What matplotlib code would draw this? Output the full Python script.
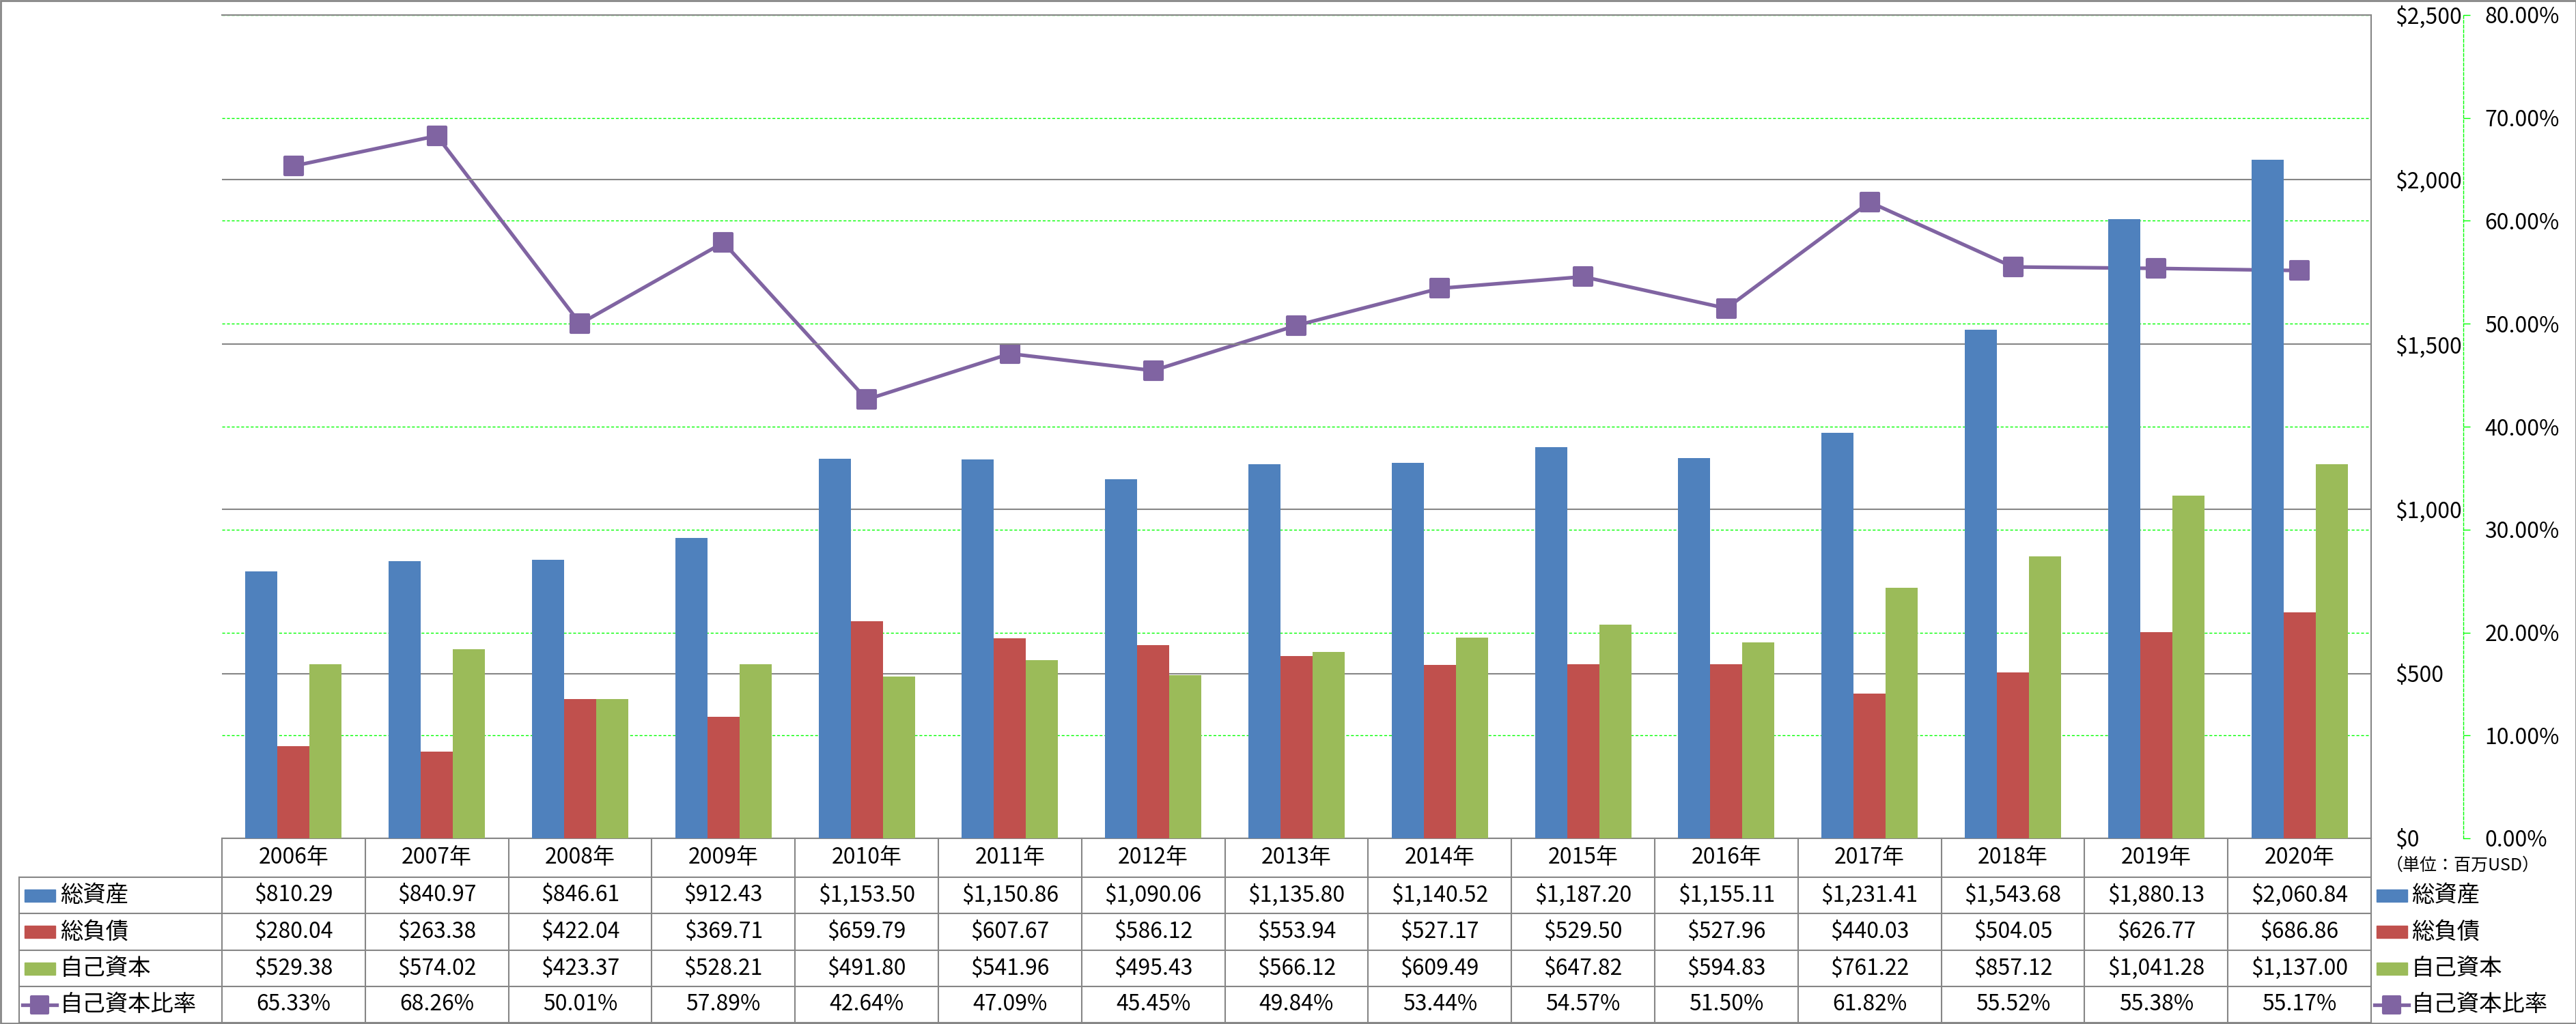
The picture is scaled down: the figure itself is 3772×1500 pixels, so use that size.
import numpy as np
import matplotlib
matplotlib.use("Agg")
import matplotlib.pyplot as plt
from matplotlib.lines import Line2D
from matplotlib.patches import Rectangle
from matplotlib.markers import MarkerStyle
from matplotlib.transforms import blended_transform_factory
from matplotlib.ticker import FuncFormatter

plt.rcParams['font.family'] = ['Noto Sans CJK JP', 'DejaVu Sans']

years = ["2006年", "2007年", "2008年", "2009年", "2010年", "2011年", "2012年", "2013年",
         "2014年", "2015年", "2016年", "2017年", "2018年", "2019年", "2020年"]
total_assets = [810.29, 840.97, 846.61, 912.43, 1153.50, 1150.86, 1090.06, 1135.80,
                1140.52, 1187.20, 1155.11, 1231.41, 1543.68, 1880.13, 2060.84]
total_liab = [280.04, 263.38, 422.04, 369.71, 659.79, 607.67, 586.12, 553.94,
              527.17, 529.50, 527.96, 440.03, 504.05, 626.77, 686.86]
equity = [529.38, 574.02, 423.37, 528.21, 491.80, 541.96, 495.43, 566.12,
          609.49, 647.82, 594.83, 761.22, 857.12, 1041.28, 1137.00]
equity_ratio = [65.33, 68.26, 50.01, 57.89, 42.64, 47.09, 45.45, 49.84,
                53.44, 54.57, 51.50, 61.82, 55.52, 55.38, 55.17]

series_names = ["総資産", "総負債", "自己資本", "自己資本比率"]
colors = ["#4F81BD", "#C0504D", "#9BBB59", "#8064A2"]
unit_label = "（単位：百万USD）"

W, H = 3773, 1500
FS = 23
GRAY = "#868686"
GREEN = "#00FF00"


def fx(px):
    return px / W


def fy(py):
    return 1 - py / H


fig = plt.figure(figsize=(W / 100, H / 100), dpi=100)
fig.patch.set_facecolor("white")

ax = fig.add_axes([fx(325), fy(1228), fx(3472) - fx(325), fy(22) - fy(1228)])
ax2 = ax.twinx()
ax.set_zorder(2)
ax2.set_zorder(1)
ax.patch.set_visible(False)
ax2.patch.set_visible(False)

x = np.arange(len(years))
bw = 0.224

# line sits behind the bars, like the original
mk = MarkerStyle("s", joinstyle="round")
ax2.plot(x, equity_ratio, color=colors[3], lw=3.8, marker=mk, ms=19,
         mew=3, mec=colors[3], mfc=colors[3], zorder=3)

ax.bar(x - bw, total_assets, bw, color=colors[0], zorder=3)
ax.bar(x, total_liab, bw, color=colors[1], zorder=3)
ax.bar(x + bw, equity, bw, color=colors[2], zorder=3)

ax.set_xlim(-0.5, len(years) - 0.5)
ax.set_ylim(0, 2500)
ax.set_yticks(np.arange(0, 2501, 500))
ax.yaxis.set_major_formatter(FuncFormatter(lambda v, p: f"${v:,.0f}"))
ax.yaxis.tick_right()
ax.tick_params(axis="y", length=0, pad=25, labelsize=FS)
ax.set_xticks([])
ax.set_axisbelow(True)
ax.yaxis.grid(True, color=GRAY, lw=1.5)
ax.spines["left"].set_visible(False)
for s in ["top", "right", "bottom"]:
    ax.spines[s].set_color(GRAY)
    ax.spines[s].set_linewidth(1.5)

ax2.set_ylim(0, 80)
ax2.set_yticks(np.arange(0, 81, 10))
ax2.yaxis.set_major_formatter(FuncFormatter(lambda v, p: f"{v:.2f}%"))
ax2.tick_params(axis="y", direction="out", length=7.2, width=1, color=GREEN,
                pad=15.5, labelsize=FS)
ax2.yaxis.grid(True, color=GREEN, lw=1, ls=(0, (3, 2)))
for s in ["top", "left", "bottom"]:
    ax2.spines[s].set_visible(False)
ax2.spines["right"].set_position(("axes", (3607 - 325) / (3472 - 325)))
ax2.spines["right"].set_color(GREEN)
ax2.spines["right"].set_linewidth(1)
ax2.spines["right"].set_linestyle((0, (3, 2)))
ax2.set_xticks([])

# data table under the chart
trans = blended_transform_factory(ax.transData, fig.transFigure)
row_edges = [1285, 1338, 1392, 1445, 1498]
row_mid = [(a + b) / 2 for a, b in zip(row_edges[:-1], row_edges[1:])]
head_mid = (1228 + 1285) / 2

for i in range(len(years) + 1):
    fig.add_artist(Line2D([i - 0.5, i - 0.5], [fy(1228), fy(1498)],
                          transform=trans, color=GRAY, lw=1.5))
fig.add_artist(Line2D([fx(28), fx(28)], [fy(1285), fy(1498)],
                      transform=fig.transFigure, color=GRAY, lw=1.5))
for yy in row_edges:
    fig.add_artist(Line2D([fx(28), fx(3472)], [fy(yy), fy(yy)],
                          transform=fig.transFigure, color=GRAY, lw=1.5))

for i, y in enumerate(years):
    ax.text(i, fy(head_mid), y, transform=trans, ha="center", va="center",
            fontsize=FS)

table_rows = [
    [f"${v:,.2f}" for v in total_assets],
    [f"${v:,.2f}" for v in total_liab],
    [f"${v:,.2f}" for v in equity],
    [f"{v:.2f}%" for v in equity_ratio],
]
for r, vals in enumerate(table_rows):
    for i, s in enumerate(vals):
        ax.text(i, fy(row_mid[r]), s, transform=trans, ha="center",
                va="center", fontsize=FS)


def legend_key(x0, yc, k):
    if k < 3:
        fig.add_artist(Rectangle((fx(x0), fy(yc + 9)), 45 / W, 18 / H,
                                 transform=fig.transFigure, color=colors[k]))
    else:
        fig.add_artist(Line2D([fx(x0 - 3), fx(x0 + 22), fx(x0 + 47)],
                              [fy(yc)] * 3,
                              transform=fig.transFigure, color=colors[3],
                              lw=3.8, marker=mk, ms=17, mew=3,
                              mec=colors[3], mfc=colors[3], markevery=[1]))


for r in range(4):
    legend_key(36, row_mid[r], r)
    fig.text(fx(88), fy(row_mid[r]), series_names[r], ha="left", va="center",
             fontsize=FS + 1)
    legend_key(3480, row_mid[r], r)
    fig.text(fx(3531), fy(row_mid[r]), series_names[r], ha="left",
             va="center", fontsize=FS + 1)

fig.text(fx(3606), fy(1268), unit_label, ha="center", va="center", fontsize=18)

fig.add_artist(Rectangle((1 / W, 1 / H), 1 - 2 / W, 1 - 2 / H, fill=False,
                         edgecolor=GRAY, lw=2, transform=fig.transFigure))

fig.savefig("out.png", dpi=100)
